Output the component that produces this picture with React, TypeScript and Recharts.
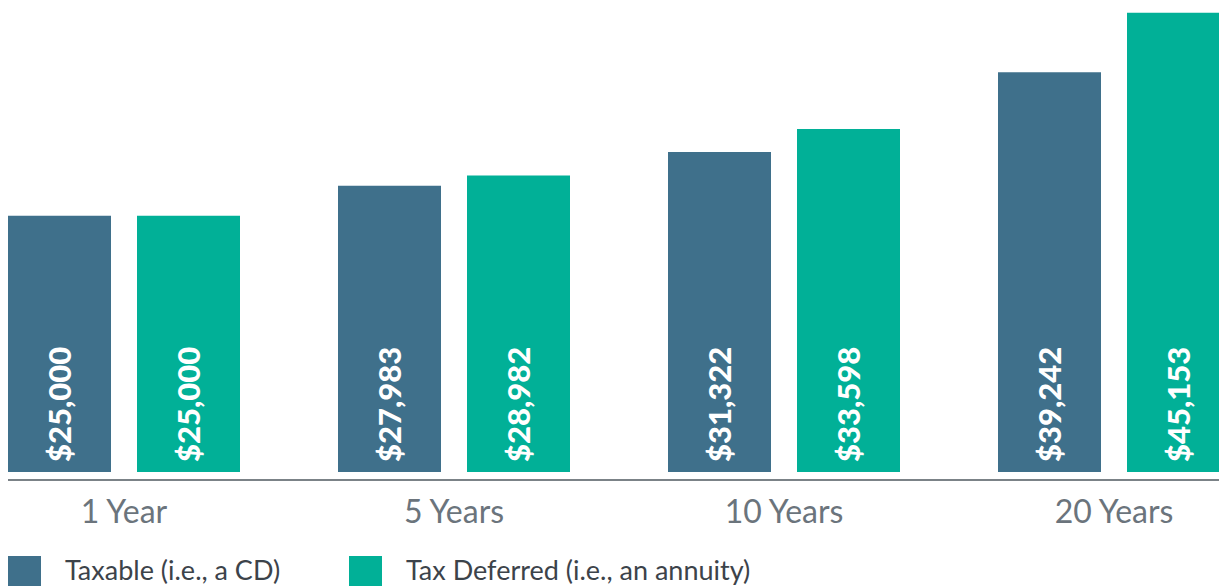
import React from 'react';
import { BarChart, Bar, XAxis, YAxis, LabelList, Legend } from 'recharts';

const categories = ['1 Year', '5 Years', '10 Years', '20 Years'];
const taxableValues = [25000, 27983, 31322, 39242];
const deferredValues = [25000, 28982, 33598, 45153];
const seriesNames = ['Taxable (i.e., a CD)', 'Tax Deferred (i.e., an annuity)'];

const TAXABLE_COLOR = '#3f708b';
const DEFERRED_COLOR = '#01b097';
const Y_DOMAIN_MIN = -1220;
const Y_DOMAIN_MAX = 45614;
const BAR_BASE = -427;

const data = categories.map((c, i) => ({
  name: c,
  taxable: taxableValues[i],
  deferred: deferredValues[i],
}));

const fmt = (v: number) => '$' + v.toLocaleString('en-US');

const BarValueLabel = (props: any) => {
  const { x, y, width, height, value } = props;
  const cx = x + width / 2 + 11;
  const by = y + height - 10;
  return (
    <text
      transform={`translate(${cx},${by}) rotate(-90)`}
      fill="#ffffff"
      fontFamily="Lato, sans-serif"
      fontWeight={900}
      fontSize={31}
      textAnchor="start"
    >
      {fmt(Number(value))}
    </text>
  );
};

const CategoryTick = (props: any) => {
  const { x, y, payload } = props;
  return (
    <text
      x={x}
      y={y + 43}
      textAnchor="middle"
      fill="#6b747c"
      fontFamily="Lato, sans-serif"
      fontSize={32}
    >
      {payload.value}
    </text>
  );
};

const LegendContent = () => {
  const colors = [TAXABLE_COLOR, DEFERRED_COLOR];
  return (
    <div style={{ display: 'flex', flexDirection: 'row', width: 1211 }}>
      {seriesNames.map((n, i) => (
        <div
          key={n}
          style={{ display: 'flex', alignItems: 'center', width: 341, flexShrink: 0, height: 33 }}
        >
          <div
            style={{
              width: 33,
              height: 33,
              minWidth: 33,
              flexShrink: 0,
              background: colors[i],
              marginRight: 24,
            }}
          />
          <span
            style={{
              fontFamily: 'Lato, sans-serif',
              fontSize: 27,
              lineHeight: '26px',
              color: '#3c434a',
              whiteSpace: 'nowrap',
              position: 'relative',
              top: -3,
            }}
          >
            {n}
          </span>
        </div>
      ))}
    </div>
  );
};

export default function App() {
  return (
    <div
      style={{
        position: 'fixed',
        left: 0,
        top: 0,
        width: 1219,
        height: 586,
        overflow: 'hidden',
        background: '#ffffff',
      }}
    >
      <div style={{ position: 'absolute', left: 8, top: 8 }}>
        <BarChart
          width={1211}
          height={578}
          data={data}
          margin={{ top: 0, right: 0, left: 0, bottom: 46 }}
          barSize={103}
          barGap={26}
        >
          <XAxis
            dataKey="name"
            height={60}
            padding={{ left: -49, right: -60 }}
            axisLine={{ stroke: '#4f585f', strokeWidth: 1.5 }}
            tickLine={false}
            tickSize={0}
            tickMargin={0}
            tick={<CategoryTick />}
            interval={0}
          />
          <YAxis hide type="number" domain={[Y_DOMAIN_MIN, Y_DOMAIN_MAX]} />
          <Legend
            layout="horizontal"
            verticalAlign="middle"
            align="center"
            content={<LegendContent />}
            wrapperStyle={{ left: 0, top: 548, width: 1211 }}
          />
          <Bar
            dataKey={(d: any) => [BAR_BASE, d.taxable]}
            name={seriesNames[0]}
            fill={TAXABLE_COLOR}
            isAnimationActive={false}
          >
            <LabelList dataKey="taxable" content={<BarValueLabel />} />
          </Bar>
          <Bar
            dataKey={(d: any) => [BAR_BASE, d.deferred]}
            name={seriesNames[1]}
            fill={DEFERRED_COLOR}
            isAnimationActive={false}
          >
            <LabelList dataKey="deferred" content={<BarValueLabel />} />
          </Bar>
        </BarChart>
      </div>
    </div>
  );
}
